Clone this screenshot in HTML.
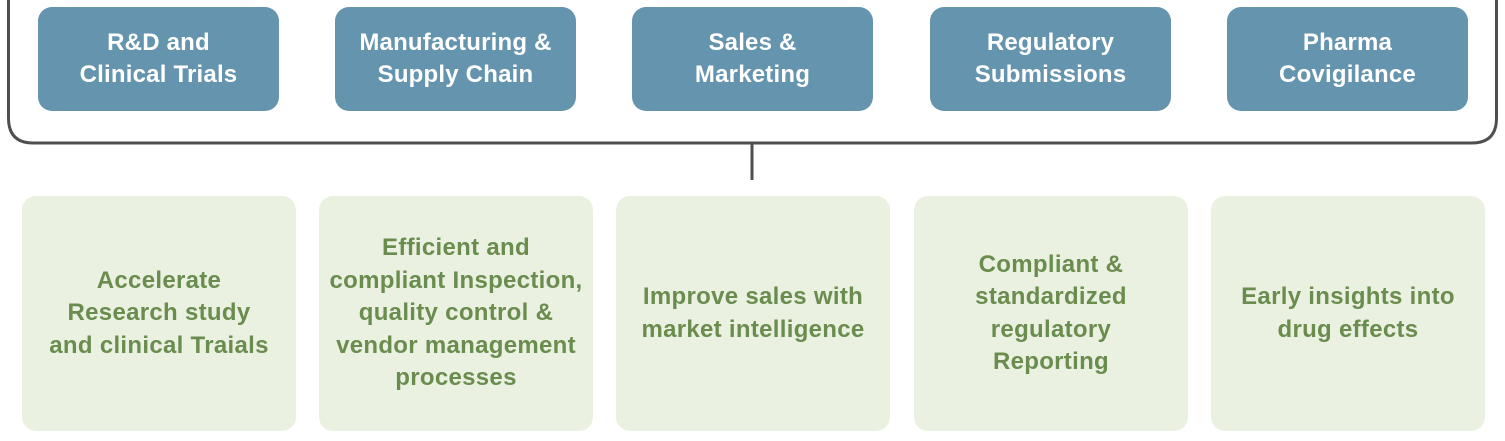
<!DOCTYPE html>
<html><head><style>
body{margin:0;width:1505px;height:441px;background:#fff;position:relative;overflow:hidden;font-family:"Liberation Sans",sans-serif;font-weight:bold}
.t{position:absolute;top:7px;width:241px;height:104px;background:#6494ae;border-radius:14px;color:#fff;font-size:24px;letter-spacing:0.2px;line-height:32px;display:flex;align-items:center;justify-content:center;text-align:center}
.b{position:absolute;top:196px;width:274px;height:235px;background:#eaf1e1;border-radius:14px;color:#6a8c4e;font-size:24px;letter-spacing:0.3px;line-height:32.5px;display:flex;align-items:center;justify-content:center;text-align:center;white-space:nowrap}
</style></head><body>
<svg width="1505" height="441" style="position:absolute;left:0;top:0">
<path d="M8.5 0 V118 Q8.5 143 33 143 H1472 Q1496.5 143 1496.5 118 V0" fill="none" stroke="#4f4f4f" stroke-width="3"/>
<line x1="752" y1="143" x2="752" y2="180" stroke="#4f4f4f" stroke-width="3"/>
</svg>
<div class="t" style="left:38px">R&amp;D and<br>Clinical Trials</div>
<div class="t" style="left:335px">Manufacturing &amp;<br>Supply Chain</div>
<div class="t" style="left:632px">Sales &amp;<br>Marketing</div>
<div class="t" style="left:930px">Regulatory<br>Submissions</div>
<div class="t" style="left:1227px">Pharma<br>Covigilance</div>
<div class="b" style="left:22px">Accelerate<br>Research study<br>and clinical Traials</div>
<div class="b" style="left:319px">Efficient and<br>compliant Inspection,<br>quality control &amp;<br>vendor management<br>processes</div>
<div class="b" style="left:616px">Improve sales with<br>market intelligence</div>
<div class="b" style="left:914px">Compliant &amp;<br>standardized<br>regulatory<br>Reporting</div>
<div class="b" style="left:1211px">Early insights into<br>drug effects</div>
</body></html>
